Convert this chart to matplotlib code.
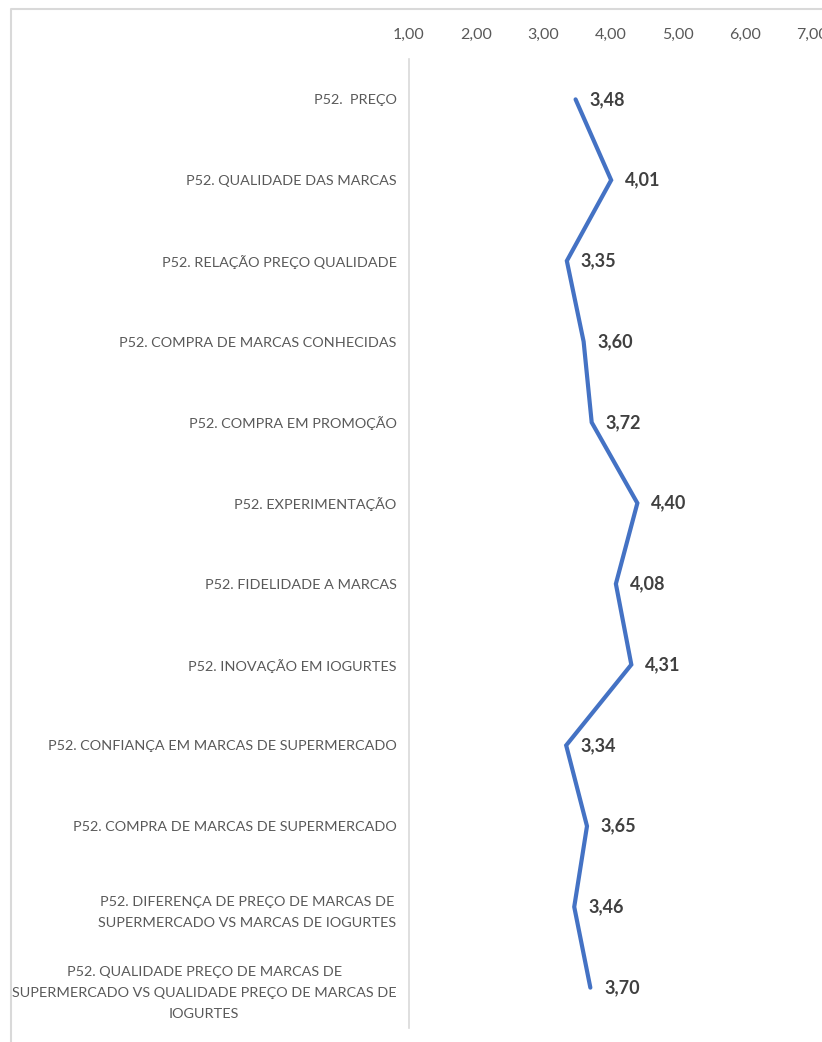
import matplotlib
matplotlib.use("Agg")
import matplotlib.pyplot as plt
from matplotlib.lines import Line2D

plt.rcParams['font.family'] = ['Lato', 'DejaVu Sans']

categories = [
    "P52.  PREÇO",
    "P52. QUALIDADE DAS MARCAS",
    "P52. RELAÇÃO PREÇO QUALIDADE",
    "P52. COMPRA DE MARCAS CONHECIDAS",
    "P52. COMPRA EM PROMOÇÃO",
    "P52. EXPERIMENTAÇÃO",
    "P52. FIDELIDADE A MARCAS",
    "P52. INOVAÇÃO EM IOGURTES",
    "P52. CONFIANÇA EM MARCAS DE SUPERMERCADO",
    "P52. COMPRA DE MARCAS DE SUPERMERCADO",
    "P52. DIFERENÇA DE PREÇO DE MARCAS DE\nSUPERMERCADO VS MARCAS DE IOGURTES",
    "P52. QUALIDADE PREÇO DE MARCAS DE\nSUPERMERCADO VS QUALIDADE PREÇO DE MARCAS DE\nIOGURTES",
]
means = [3.48, 4.01, 3.35, 3.60, 3.72, 4.40, 4.08, 4.31, 3.34, 3.65, 3.46, 3.70]
x_ticks = [1, 2, 3, 4, 5, 6, 7]

W, H = 822, 1042
fig = plt.figure(figsize=(W / 100, H / 100), dpi=100)
ax = fig.add_axes([409 / W, 1 - 1028 / H, (812 - 409) / W, (1028 - 59) / H])

ypos = list(range(len(categories)))
ax.plot(means, ypos, color='#4472C4', linewidth=3.0, solid_capstyle='round',
        solid_joinstyle='miter')

for v, y in zip(means, ypos):
    ax.annotate(f"{v:.2f}".replace('.', ','), (v, y), xytext=(10, 0),
                textcoords='offset points', ha='left', va='center',
                fontsize=13, fontweight='bold', color='#404040')

ax.set_xlim(1, 7)
ax.set_ylim(len(categories) - 0.5, -0.5)
ax.xaxis.tick_top()
ax.set_xticks(x_ticks)
ax.set_xticklabels([f"{t:.2f}".replace('.', ',') for t in x_ticks])
ax.set_yticks(ypos)
ax.set_yticklabels(categories, multialignment='center', linespacing=1.9)
ax.tick_params(axis='x', length=0, pad=12.5, labelsize=11.5, labelcolor='#595959')
ax.tick_params(axis='y', length=0, pad=9, labelsize=10.35, labelcolor='#595959')

for side in ['top', 'right', 'bottom']:
    ax.spines[side].set_visible(False)
ax.spines['left'].set_color('#d9d9d9')
ax.spines['left'].set_linewidth(1.2)

# chart frame border (left and top edges)
fig.add_artist(Line2D([11 / W, 11 / W, 1.0], [0.0, 1 - 9 / H, 1 - 9 / H],
                      transform=fig.transFigure, color='#d9d9d9', linewidth=1.5))

fig.savefig("out.png", dpi=100, facecolor='white')
